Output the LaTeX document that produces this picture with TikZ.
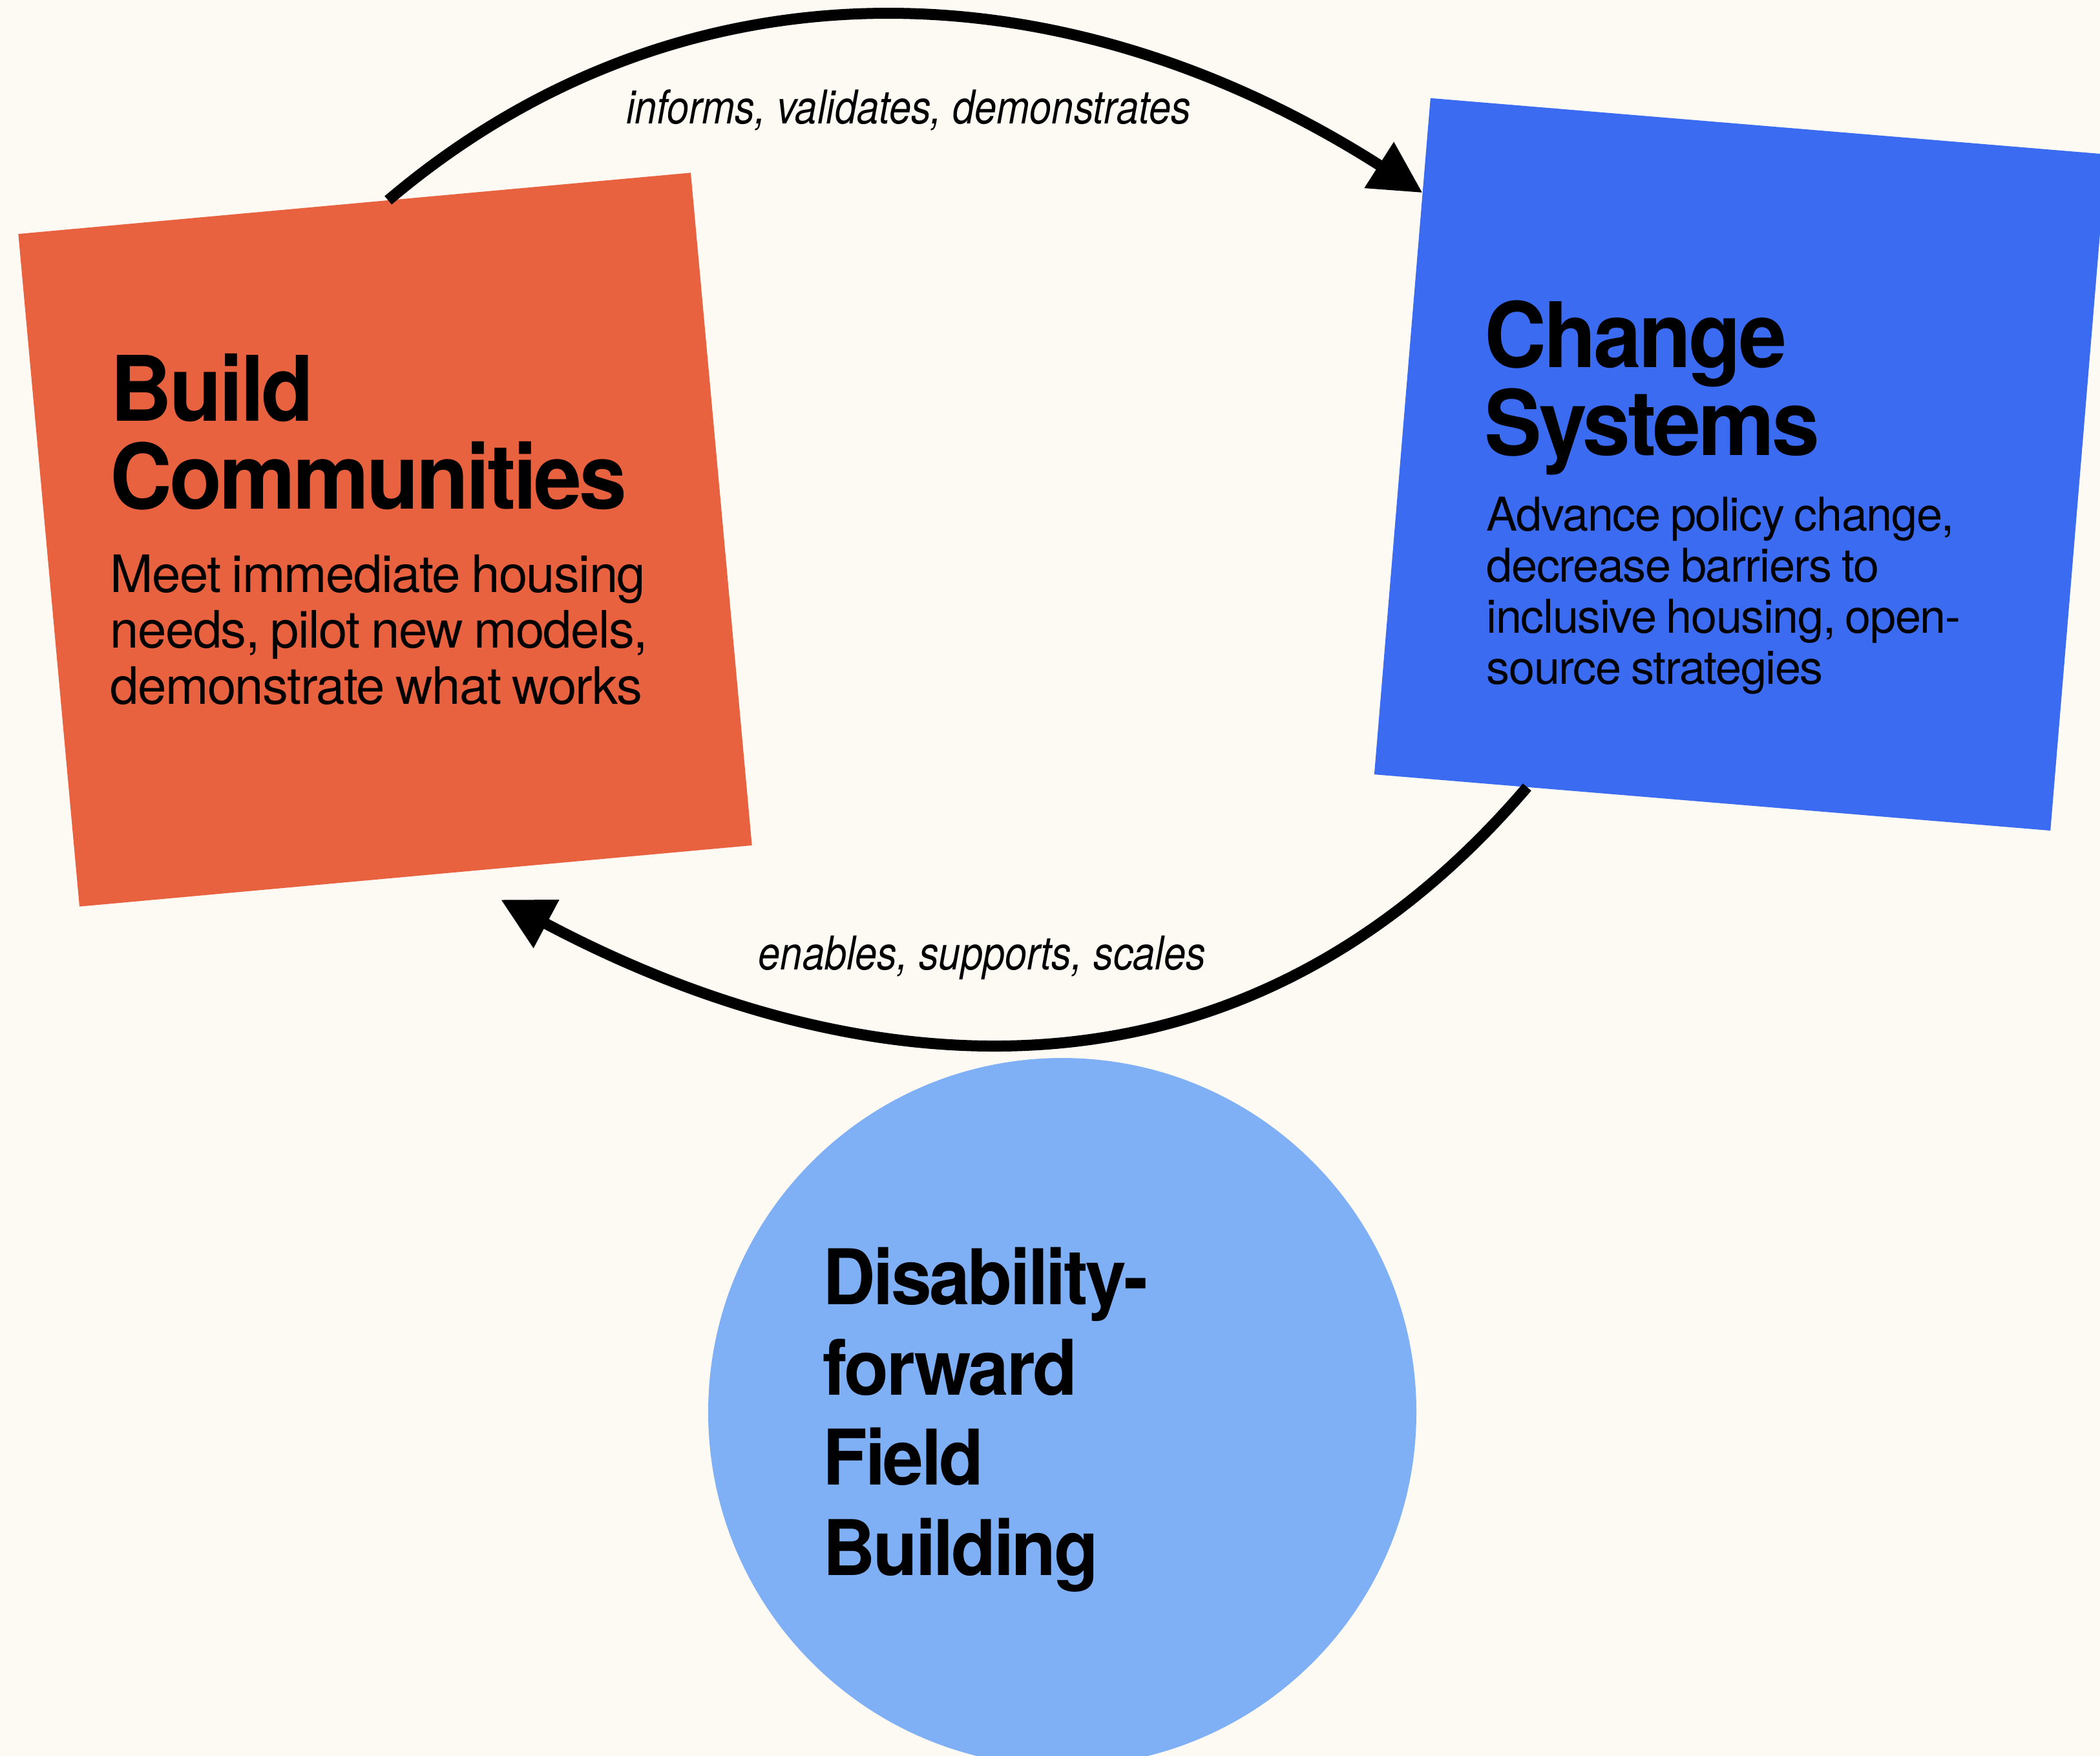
\documentclass[tikz,border=0pt]{standalone}
\usepackage{fontspec}
\setmainfont{TeX Gyre Heros}
\newfontfamily\headfont[FakeStretch=0.95, LetterSpace=-3]{TeX Gyre Heros}
\newfontfamily\bodyfont[LetterSpace=-2, WordSpace=0.8]{TeX Gyre Heros}
\newfontfamily\labelfont[FakeStretch=0.85]{TeX Gyre Heros}
\usetikzlibrary{arrows.meta,calc,positioning}
\definecolor{paper}{HTML}{FDF9F3}
\definecolor{buildorange}{HTML}{E9623F}
\definecolor{changeblue}{HTML}{3A6BF1}
\definecolor{fieldblue}{HTML}{7FB0F5}
\begin{document}
\begin{tikzpicture}[
  panel/.style={shape=rectangle, inner sep=0pt, outer sep=0pt},
  heading/.style={anchor=north west, inner sep=0pt, align=left,
  font=\headfont\bfseries\fontsize{39.8}{38.7}\selectfont},
  blurb/.style={anchor=north west, inner sep=0pt, align=left},
  flow/.style={-{Triangle[length=8mm, width=8mm]}, line width=1.7mm},
  flowlabel/.style={anchor=base, inner sep=0pt,
  font=\labelfont\itshape\fontsize{20.5}{24}\selectfont}]
\clip (0,0) rectangle (32.5,-27.17);
\fill[paper] (0,0) rectangle (32.5,-27.17);

\node (build) [panel, fill=buildorange, minimum size=10.45cm, rotate=5.2] at (5.96,-8.35) {};
\node (change) [panel, fill=changeblue, minimum size=10.5cm, rotate=-4.75] at (26.935,-7.185) {};
\node (field) [shape=circle, fill=fieldblue, inner sep=0pt, minimum size=10.96cm] at (16.44,-21.85) {};

\node (buildtitle) [heading] at (1.70,-5.47) {Build\\Communities};
\node (buildtext) [blurb, font=\bodyfont\fontsize{22.7}{24.5}\selectfont] at (1.70,-8.58)
  {Meet immediate housing\\needs, pilot new models,\\demonstrate what works};
\node (changetitle) [heading] at (22.97,-4.64) {Change\\Systems};
\node (changetext) [blurb, font=\bodyfont\fontsize{20.5}{22.5}\selectfont] at (23.00,-7.68)
  {Advance policy change,\\decrease barriers to\\inclusive housing, open-\\source strategies};
\node (fieldtitle) [heading, font=\headfont\bfseries\fontsize{33.8}{39.8}\selectfont] at (12.73,-19.29)
  {Disability-\\forward\\Field\\Building};

\node (informs) [flowlabel] at (14.06,-1.92) {informs, validates, demonstrates};
\node (enables) [flowlabel] at (15.20,-15.00) {enables, supports, scales};

\coordinate (backtip) at (7.75,-13.92);
\draw[flow] ($(build.north)!0.1!(build.north east)$) .. controls +(4.49,3.81) and +(-5.65,3.61) .. ($(change.west)!0.72!(change.north west)$);
\draw[flow] ($(change.south west)!0.226!(change.south east)$) .. controls +(-5.0,-5.85) and +(4.49,-2.39) .. (backtip);
\end{tikzpicture}
\end{document}
